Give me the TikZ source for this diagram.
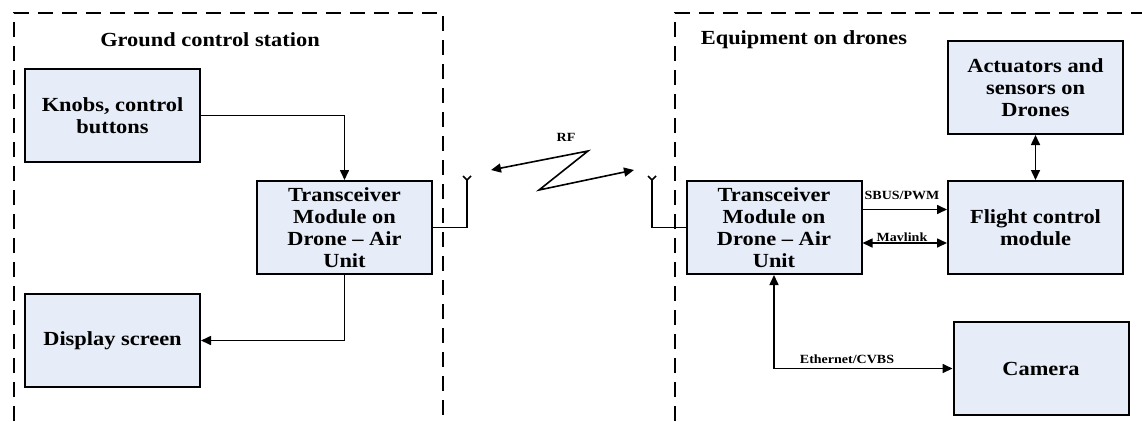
\documentclass[tikz,border=0pt]{standalone}
\usepackage{fontspec}
\setmainfont{Liberation Serif}[FakeStretch=1.12]
\usetikzlibrary{arrows.meta}
\definecolor{boxfill}{HTML}{E6ECF8}
\begin{document}
\begin{tikzpicture}[x=1pt,y=-1pt,
  block/.style={draw,line width=2pt,fill=boxfill,minimum width=175pt,minimum height=93pt,
    align=center,inner sep=1pt,font=\fontsize{20}{22}\selectfont\bfseries},
  title/.style={font=\fontsize{20}{22}\selectfont\bfseries},
  tag/.style={font=\fontsize{12.5}{14}\selectfont\bfseries,inner sep=1pt},
  frame/.style={line width=1.8pt,dash pattern=on 15pt off 9pt},
  link/.style={line width=1.6pt,-{Triangle[length=10pt,width=9pt]}},
  twoway/.style={line width=1.6pt,{Triangle[length=10pt,width=9pt]}-{Triangle[length=10pt,width=9pt]}}]
\useasboundingbox (0,0) rectangle (1142,421);
% dashed frames
\draw[frame] (14,421) -- (14,13) -- (443,13) -- (443,421);
\draw[frame] (675,421) -- (675,13) -- (1142,13);
\node[title] (gcs) at (210,40) {Ground control station};
\node[title] (eqd) at (804,40) {Equipment on drones};
% ground side
\node[block] (knobs) at (112.5,115.5) {Knobs, control\\buttons};
\node[block] (gtx) at (344.5,227.5) {Transceiver\\Module on\\Drone -- Air\\Unit};
\node[block] (disp) at (112.5,340.5) {Display screen};
% drone side
\node[block] (atx) at (774,227.5) {Transceiver\\Module on\\Drone -- Air\\Unit};
\node[block] (act) at (1035.5,87.5) {Actuators and\\sensors on\\Drones};
\node[block] (fcm) at (1035.5,227.5) {Flight control\\module};
\node[block] (cam) at (1041,368.5) {Camera};
% antennas
\coordinate (antL) at (467,180);
\coordinate (antR) at (652,180);
\draw[line width=1.6pt] (gtx.east) -| (antL);
\draw[line width=1.6pt] (atx.west) -| (antR);
\foreach \a in {antL,antR} {
\draw[line width=1.6pt] (\a) -- ++(-4,-4) (\a) -- ++(4,-4);
}
% RF link
\coordinate (rfa) at (491,170);
\coordinate (rfb) at (588,151);
\coordinate (rfc) at (539,190);
\coordinate (rfd) at (634,170);
\draw[twoway] (rfa) -- (rfb) -- (rfc) -- (rfd);
\node[tag] (rf) at (566,137) {RF};
% connectors
\draw[link] (knobs.east) -| (gtx.north);
\draw[link] (gtx.south) |- (disp.east);
\draw[link] ([yshift=18pt]atx.east) -- ([yshift=18pt]fcm.west);
\draw[twoway] ([yshift=-15.5pt]atx.east) -- ([yshift=-15.5pt]fcm.west);
\draw[twoway] (act.south) -- (fcm.north);
\draw[twoway] (atx.south) |- (cam.west);
\node[tag] (sbus) at (902,195) {SBUS/PWM};
\node[tag] (mav) at (902,237) {Mavlink};
\node[tag] (eth) at (847,359) {Ethernet/CVBS};
\end{tikzpicture}
\end{document}
